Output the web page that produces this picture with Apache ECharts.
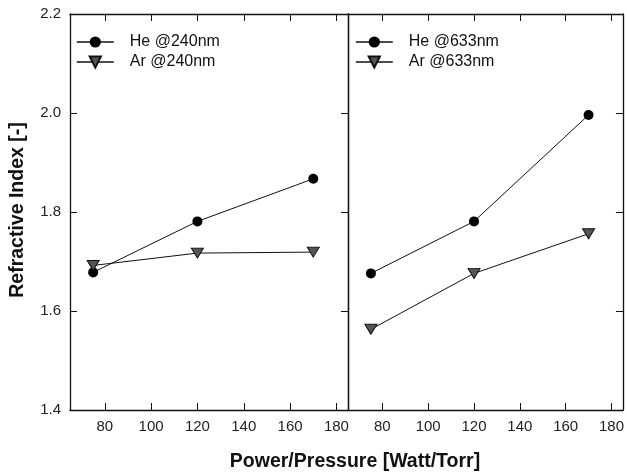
<!DOCTYPE html>
<html>
<head>
<meta charset="utf-8">
<script src="https://cdn.jsdelivr.net/npm/echarts@6/dist/echarts.min.js"></script>
<style>
  html, body { margin: 0; padding: 0; background: #fff; }
  #chart { width: 627px; height: 473px; }
</style>
</head>
<body>
<div id="chart"></div>
<script>
// Power/pressure settings (Watt/Torr)
const powerPressure = [75, 120, 170];
// Refractive index at 240 nm
const he240 = [1.678, 1.781, 1.867];
const ar240 = [1.692, 1.717, 1.719];
// Refractive index at 633 nm
const he633 = [1.676, 1.781, 1.996];
const ar633 = [1.563, 1.676, 1.756];
// Tick values
const xTicks = [80, 100, 120, 140, 160, 180];

const FONT = '"Liberation Sans", Arial, sans-serif';
const INK = '#111';

const chart = echarts.init(document.getElementById('chart'), null, { renderer: 'canvas' });

const grids = [
  { left: 70, top: 14, width: 278, height: 396 },
  { left: 348, top: 14, width: 277, height: 396 }
];

function bottomAxis(g) {
  return {
    type: 'value', gridIndex: g, position: 'bottom', min: 65, max: 185,
    axisLine: { show: true, onZero: false, lineStyle: { color: INK, width: 1.3 } },
    axisTick: { show: true, inside: true, length: 7, customValues: xTicks, lineStyle: { color: INK } },
    axisLabel: { show: true, customValues: xTicks, color: '#222', fontFamily: FONT, fontSize: 15, margin: 9 },
    splitLine: { show: false }
  };
}
function topAxis(g) {
  return {
    type: 'value', gridIndex: g, position: 'top', min: 65, max: 185,
    axisLine: { show: true, onZero: false, lineStyle: { color: INK, width: 1.3 } },
    axisTick: { show: true, inside: true, length: 7, customValues: xTicks, lineStyle: { color: INK } },
    axisLabel: { show: false },
    splitLine: { show: false }
  };
}
function leftAxis(g, withLabels) {
  return {
    type: 'value', gridIndex: g, position: 'left', min: 1.4, max: 2.2, interval: 0.2,
    axisLine: { show: true, onZero: false, lineStyle: { color: INK, width: 1.3 } },
    axisTick: { show: withLabels, inside: true, length: 7, lineStyle: { color: INK } },
    axisLabel: {
      show: withLabels, color: '#222', fontFamily: FONT, fontSize: 15, margin: 9,
      formatter: v => v.toFixed(1)
    },
    splitLine: { show: false }
  };
}
function rightAxis(g) {
  return {
    type: 'value', gridIndex: g, position: 'right', min: 1.4, max: 2.2, interval: 0.2,
    axisLine: { show: true, onZero: false, lineStyle: { color: INK, width: 1.3 } },
    axisTick: { show: true, inside: true, length: 7, lineStyle: { color: INK } },
    axisLabel: { show: false },
    splitLine: { show: false }
  };
}

function heSeries(name, data, axis) {
  return {
    name, type: 'line', xAxisIndex: axis, yAxisIndex: axis,
    data: powerPressure.map((x, i) => [x, data[i]]),
    symbol: 'circle', symbolSize: 10,
    lineStyle: { color: INK, width: 1 },
    itemStyle: { color: '#000', borderColor: '#000', borderWidth: 0 },
    emphasis: { disabled: true }, animation: false
  };
}
function arSeries(name, data, axis) {
  return {
    name, type: 'line', xAxisIndex: axis, yAxisIndex: axis,
    data: powerPressure.map((x, i) => [x, data[i]]),
    symbol: 'triangle', symbolSize: [12, 10], symbolRotate: 180,
    lineStyle: { color: INK, width: 1 },
    itemStyle: { color: '#555', borderColor: '#111', borderWidth: 1 },
    emphasis: { disabled: true }, animation: false
  };
}

const legendBase = {
  orient: 'vertical', itemWidth: 37, itemHeight: 14, itemGap: 4,
  lineStyle: { width: 1.6 },
  textStyle: { fontFamily: FONT, fontSize: 16, color: INK, padding: [0, 0, 0, 11] },
  selectedMode: false
};

chart.setOption({
  backgroundColor: '#fff',
  animation: false,
  grid: grids,
  xAxis: [bottomAxis(0), bottomAxis(1), topAxis(0), topAxis(1)],
  yAxis: [leftAxis(0, true), leftAxis(1, false), rightAxis(0), rightAxis(1)],
  legend: [
    Object.assign({}, legendBase, { left: 71, top: 29, data: ['He @240nm', 'Ar @240nm'] }),
    Object.assign({}, legendBase, { left: 350, top: 29, data: ['He @633nm', 'Ar @633nm'] })
  ],
  graphic: [
    {
      type: 'text', x: 355, y: 462,
      style: {
        text: 'Power/Pressure [Watt/Torr]', font: 'bold 19.5px ' + FONT, fill: INK,
        align: 'center', verticalAlign: 'middle'
      }
    },
    {
      type: 'text', x: 18, y: 210, rotation: Math.PI / 2,
      style: {
        text: 'Refractive Index [-]', font: 'bold 19.5px ' + FONT, fill: INK,
        align: 'center', verticalAlign: 'middle'
      }
    }
  ],
  series: [
    heSeries('He @240nm', he240, 0),
    arSeries('Ar @240nm', ar240, 0),
    heSeries('He @633nm', he633, 1),
    arSeries('Ar @633nm', ar633, 1)
  ]
});
</script>
</body>
</html>
